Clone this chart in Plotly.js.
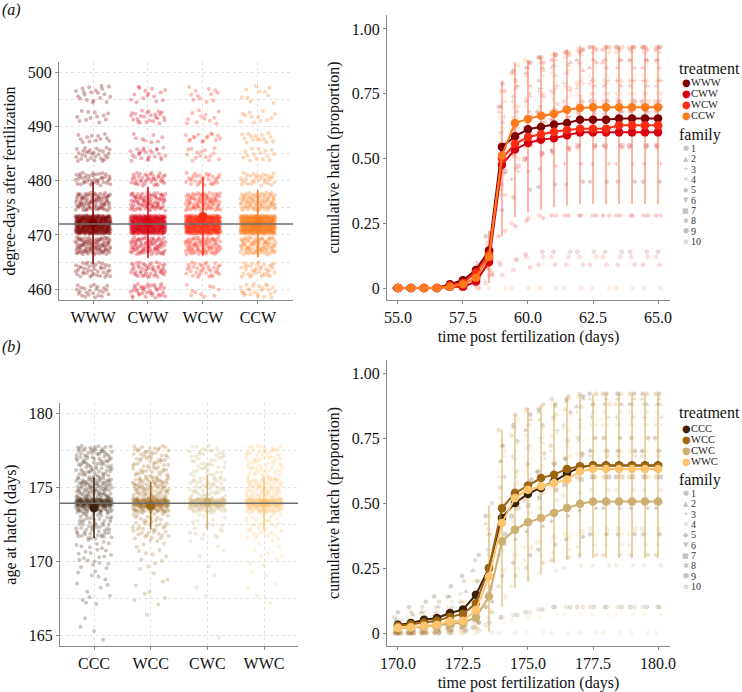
<!DOCTYPE html>
<html>
<head>
<meta charset="utf-8">
<script src="https://cdn.plot.ly/plotly-3.0.1.min.js"></script>
<style>
  html, body { margin: 0; padding: 0; background: #fff; }
  #chart { width: 742px; height: 692px; }
</style>
</head>
<body>
<div id="chart"></div>
<script>
const FONT = 'Liberation Serif, Times New Roman, serif';
const GLYPH_FONT = 'DejaVu Sans, sans-serif';
const W = 742, H = 692;

// ---------- (a) degree-days / hatch, warm-incubated ----------
const TREAT_A = ['WWW', 'CWW', 'WCW', 'CCW'];
const COLORS_A = ['#7f0000', '#d7000f', '#ff2a12', '#ff7a1c'];

// hatch recorded at discrete degree-day levels -> bands of jittered points
const DD_BAND_LO = [458.4, 462.2, 466.4, 470.2, 474.5, 479.1, 483.6, 487.0, 490.5, 494.3];
const DD_BAND_HI = [461.0, 465.0, 469.6, 473.6, 477.8, 481.5, 486.1, 488.8, 493.0, 497.5];
const DD_COUNTS = [
    [25, 40, 95, 360, 85, 40, 30, 12, 12, 20],   // WWW
    [40, 50, 85, 360, 85, 40, 25, 8, 25, 15],    // CWW
    [10, 35, 85, 360, 85, 30, 15, 15, 12, 12],   // WCW
    [25, 35, 90, 360, 85, 30, 15, 15, 12, 10],   // CCW
];
const DD_MEAN = [472.2, 472.3, 473.4, 472.1];
const DD_SD = [7.5, 6.6, 7.2, 6.2];
const DD_GRAND = 472.0;

const TIME_A = [55.0, 55.5, 56.0, 56.5, 57.0, 57.5, 58.0, 58.5, 59.0, 59.5, 60.0,
                60.5, 61.0, 61.5, 62.0, 62.5, 63.0, 63.5, 64.0, 64.5, 65.0];
const HATCH_A = [
    [0, 0, 0, 0, 0.015, 0.03, 0.07, 0.145, 0.545, 0.586, 0.613, 0.622, 0.631, 0.637, 0.65, 0.65, 0.65, 0.655, 0.655, 0.655, 0.655],
    [0, 0, 0, 0, 0.005, 0.005, 0.025, 0.10, 0.476, 0.535, 0.56, 0.573, 0.578, 0.59, 0.601, 0.601, 0.601, 0.601, 0.601, 0.601, 0.601],
    [0, 0, 0, 0, 0.01, 0.02, 0.06, 0.13, 0.50, 0.557, 0.583, 0.594, 0.603, 0.61, 0.615, 0.615, 0.615, 0.628, 0.628, 0.628, 0.628],
    [0, 0, 0, 0, 0.005, 0.015, 0.04, 0.12, 0.512, 0.637, 0.653, 0.665, 0.672, 0.688, 0.695, 0.698, 0.698, 0.698, 0.698, 0.698, 0.698],
];
// spread bars (drawn on WCW)
const ERR_A_LO = [null, null, null, null, null, null, null, 0.02, 0.20, 0.274, 0.293, 0.302, 0.312, 0.319, 0.325, 0.325, 0.325, 0.325, 0.325, 0.325, 0.325];
const ERR_A_HI = [null, null, null, null, null, null, null, 0.22, 0.80, 0.873, 0.88, 0.893, 0.912, 0.921, 0.935, 0.935, 0.935, 0.935, 0.935, 0.935, 0.935];

// per-family cumulative hatch, one row per family (1..10), 21 times each
const FAM_A = [
    [ // WWW
        '0 0 0 0 .02 .04 .09 .2 .79 .84 .87 .89 .9 .91 .92 .93 .93 .93 .93 .93 .93',
        '0 0 0 0 0 .02 .06 .15 .7 .78 .83 .85 .86 .87 .88 .88 .88 .88 .88 .88 .88',
        '0 0 0 0 .01 .03 .1 .18 .66 .72 .75 .77 .78 .79 .8 .8 .8 .8 .8 .8 .8',
        '0 0 0 0 0 .04 .08 .16 .6 .68 .72 .74 .76 .77 .78 .78 .78 .78 .78 .78 .78',
        '0 0 0 0 .02 .03 .07 .14 .55 .62 .66 .68 .69 .7 .72 .72 .72 .72 .72 .72 .72',
        '0 0 0 0 0 .02 .05 .12 .5 .58 .62 .64 .65 .66 .68 .68 .68 .68 .68 .68 .68',
        '0 0 0 0 .01 .02 .06 .13 .45 .52 .56 .58 .59 .6 .62 .62 .62 .62 .62 .62 .62',
        '0 0 0 0 0 .03 .07 .15 .4 .46 .5 .52 .53 .54 .55 .55 .55 .55 .55 .55 .55',
        '0 0 0 0 0 .01 .04 .1 .3 .35 .38 .39 .4 .4 .41 .41 .41 .41 .41 .41 .41',
        '0 0 0 0 0 0 .02 .05 .09 .11 .13 .14 .14 .14 .14 .14 .14 .14 .14 .14 .14',
    ],
    [ // CWW
        '0 0 0 0 0 .02 .05 .12 .7 .8 .85 .87 .88 .9 .91 .92 .92 .92 .92 .92 .92',
        '0 0 0 0 0 0 .03 .1 .64 .74 .78 .8 .82 .83 .84 .85 .85 .85 .85 .85 .85',
        '0 0 0 0 0 .01 .04 .13 .6 .68 .72 .74 .75 .76 .77 .78 .78 .78 .78 .78 .78',
        '0 0 0 0 0 0 .02 .09 .56 .64 .68 .7 .71 .72 .73 .73 .73 .73 .73 .73 .73',
        '0 0 0 0 .01 .01 .04 .11 .52 .6 .64 .66 .67 .68 .7 .7 .7 .7 .7 .7 .7',
        '0 0 0 0 0 0 .02 .08 .46 .53 .57 .59 .6 .61 .62 .62 .62 .62 .62 .62 .62',
        '0 0 0 0 0 .01 .03 .1 .4 .47 .5 .52 .53 .54 .55 .55 .55 .55 .55 .55 .55',
        '0 0 0 0 0 0 .02 .07 .36 .42 .45 .46 .47 .48 .48 .48 .48 .48 .48 .48 .48',
        '0 0 0 0 0 0 .01 .05 .2 .24 .26 .27 .28 .28 .28 .28 .28 .28 .28 .28 .28',
        '0 0 0 0 0 0 0 .02 .05 .07 .08 .09 .09 .09 .09 .09 .09 .09 .09 .09 .09',
    ],
    [ // WCW
        '0 0 0 0 .01 .03 .08 .16 .76 .83 .87 .89 .9 .91 .92 .93 .93 .93 .93 .93 .93',
        '0 0 0 0 0 .02 .06 .14 .68 .77 .82 .84 .85 .86 .87 .87 .87 .88 .88 .88 .88',
        '0 0 0 0 .02 .03 .08 .17 .62 .7 .74 .76 .77 .78 .79 .79 .79 .8 .8 .8 .8',
        '0 0 0 0 0 .02 .06 .13 .58 .66 .7 .72 .73 .74 .75 .75 .75 .75 .75 .75 .75',
        '0 0 0 0 .01 .02 .05 .12 .53 .61 .65 .67 .68 .69 .7 .7 .7 .7 .7 .7 .7',
        '0 0 0 0 0 .02 .06 .14 .5 .58 .62 .64 .65 .66 .67 .67 .67 .68 .68 .68 .68',
        '0 0 0 0 0 .01 .04 .1 .44 .51 .55 .57 .58 .59 .6 .6 .6 .6 .6 .6 .6',
        '0 0 0 0 .01 .02 .05 .11 .38 .45 .49 .51 .52 .53 .54 .54 .54 .54 .54 .54 .54',
        '0 0 0 0 0 0 .03 .08 .22 .25 .27 .28 .28 .28 .28 .28 .28 .28 .28 .28 .28',
        '0 0 0 0 0 .01 .02 .06 .1 .11 .12 .12 .12 .12 .12 .12 .12 .12 .12 .12 .12',
    ],
    [ // CCW
        '0 0 0 0 0 .02 .06 .15 .76 .86 .88 .89 .9 .91 .92 .93 .93 .93 .93 .93 .93',
        '0 0 0 0 0 .01 .04 .12 .72 .83 .85 .87 .88 .89 .9 .91 .91 .91 .91 .91 .91',
        '0 0 0 0 .01 .02 .05 .14 .66 .78 .8 .82 .83 .84 .86 .87 .87 .87 .87 .87 .87',
        '0 0 0 0 0 0 .03 .1 .6 .73 .75 .77 .78 .79 .81 .82 .82 .82 .82 .82 .82',
        '0 0 0 0 0 .01 .05 .13 .56 .7 .73 .75 .76 .77 .79 .8 .8 .8 .8 .8 .8',
        '0 0 0 0 0 0 .03 .1 .52 .66 .68 .7 .71 .72 .74 .75 .75 .75 .75 .75 .75',
        '0 0 0 0 0 .01 .04 .12 .48 .62 .65 .67 .68 .69 .71 .72 .72 .72 .72 .72 .72',
        '0 0 0 0 0 0 .03 .09 .42 .57 .6 .62 .63 .64 .65 .66 .66 .66 .66 .66 .66',
        '0 0 0 0 0 0 .02 .07 .36 .5 .54 .56 .57 .58 .59 .6 .6 .6 .6 .6 .6',
        '0 0 0 0 0 0 0 0 0 0 0 0 0 0 0 0 0 0 0 0 0',
    ],
];

// ---------- (b) age at hatch, cold-incubated ----------
const TREAT_B = ['CCC', 'WCC', 'CWC', 'WWC'];
const COLORS_B = ['#3d2008', '#9b6512', '#cdb071', '#ffc46e'];

const AGE_BAND_LO = [164.4, 167.0, 169.5, 171.5, 173.3, 173.7, 174.2, 175.6];
const AGE_BAND_HI = [167.0, 169.5, 171.5, 173.3, 173.7, 174.2, 175.6, 177.8];
const AGE_COUNTS = [
    [4, 14, 25, 60, 40, 130, 90, 90],   // CCC
    [1, 10, 14, 45, 40, 120, 80, 70],   // WCC
    [1, 3, 5, 20, 30, 110, 45, 50],     // CWC
    [0, 6, 10, 35, 40, 120, 75, 70],    // WWC
];
const AGE_MEAN = [173.6, 173.75, 173.97, 173.9];
const AGE_SD = [2.05, 1.6, 1.85, 1.8];
const AGE_GRAND = 173.9;

const TIME_B = [170.0, 170.5, 171.0, 171.5, 172.0, 172.5, 173.0, 173.5, 174.0, 174.5, 175.0,
                175.5, 176.0, 176.5, 177.0, 177.5, 178.0, 178.5, 179.0, 179.5, 180.0];
const HATCH_B = [
    [0.032, 0.038, 0.051, 0.058, 0.077, 0.09, 0.147, 0.25, 0.442, 0.50, 0.535, 0.558, 0.583, 0.613, 0.638, 0.644, 0.644, 0.644, 0.644, 0.644, 0.644],
    [0.027, 0.033, 0.04, 0.047, 0.062, 0.073, 0.114, 0.249, 0.48, 0.538, 0.567, 0.596, 0.609, 0.631, 0.641, 0.644, 0.644, 0.644, 0.644, 0.644, 0.644],
    [0.02, 0.02, 0.025, 0.03, 0.035, 0.04, 0.06, 0.14, 0.353, 0.397, 0.426, 0.442, 0.462, 0.481, 0.497, 0.506, 0.506, 0.506, 0.506, 0.506, 0.506],
    [0.02, 0.022, 0.028, 0.032, 0.045, 0.047, 0.088, 0.217, 0.423, 0.519, 0.551, 0.564, 0.577, 0.59, 0.622, 0.631, 0.631, 0.631, 0.631, 0.631, 0.631],
];
// spread bars (drawn on WWC)
const ERR_B_LO = [null, null, null, null, null, null, null, 0.005, 0.10, 0.173, 0.199, 0.23, 0.27, 0.282, 0.288, 0.288, 0.288, 0.288, 0.288, 0.288, 0.288];
const ERR_B_HI = [null, null, null, null, null, null, null, 0.49, 0.78, 0.84, 0.865, 0.875, 0.885, 0.904, 0.917, 0.917, 0.917, 0.917, 0.917, 0.917, 0.917];

const FAM_B = [
    [ // CCC
        '.08 .1 .12 .14 .18 .22 .3 .45 .72 .8 .84 .86 .88 .9 .91 .92 .92 .92 .92 .92 .92',
        '.05 .07 .08 .1 .14 .16 .24 .38 .66 .74 .78 .8 .83 .85 .87 .88 .88 .88 .88 .88 .88',
        '.03 .04 .06 .08 .1 .12 .2 .32 .6 .68 .72 .75 .78 .8 .82 .83 .83 .83 .83 .83 .83',
        '.02 .03 .04 .05 .07 .09 .15 .27 .52 .6 .64 .67 .7 .72 .74 .75 .75 .75 .75 .75 .75',
        '.02 .02 .03 .04 .06 .08 .13 .22 .47 .55 .59 .62 .65 .67 .69 .7 .7 .7 .7 .7 .7',
        '0 .01 .02 .03 .05 .06 .1 .18 .42 .5 .54 .57 .6 .62 .64 .65 .65 .65 .65 .65 .65',
        '0 0 .01 .02 .03 .04 .08 .15 .38 .45 .49 .52 .55 .57 .59 .6 .6 .6 .6 .6 .6',
        '0 0 0 .01 .02 .03 .06 .12 .3 .36 .39 .41 .43 .45 .47 .48 .48 .48 .48 .48 .48',
        '0 0 0 0 .01 .02 .04 .1 .22 .27 .3 .32 .34 .36 .37 .38 .38 .38 .38 .38 .38',
        '0 0 0 0 0 .01 .02 .04 .06 .07 .08 .09 .1 .1 .1 .1 .1 .1 .1 .1 .1',
    ],
    [ // WCC
        '.06 .08 .1 .12 .14 .2 .28 .5 .78 .84 .86 .88 .9 .91 .92 .92 .92 .92 .92 .92 .92',
        '.04 .05 .06 .07 .09 .12 .2 .42 .72 .79 .82 .85 .87 .89 .9 .9 .9 .9 .9 .9 .9',
        '.03 .04 .04 .05 .06 .08 .14 .35 .66 .73 .76 .79 .82 .84 .85 .85 .85 .85 .85 .85 .85',
        '.02 .03 .03 .04 .05 .06 .1 .3 .6 .67 .7 .74 .77 .79 .8 .8 .8 .8 .8 .8 .8',
        '.01 .02 .02 .03 .04 .05 .08 .26 .56 .62 .65 .69 .72 .74 .75 .75 .75 .75 .75 .75 .75',
        '.01 .01 .02 .02 .03 .04 .06 .2 .48 .55 .58 .62 .65 .67 .68 .68 .68 .68 .68 .68 .68',
        '0 0 .01 .01 .02 .03 .05 .17 .42 .48 .51 .54 .57 .59 .6 .6 .6 .6 .6 .6 .6',
        '0 0 0 .01 .01 .02 .04 .14 .34 .4 .43 .45 .47 .49 .5 .5 .5 .5 .5 .5 .5',
        '0 0 0 0 .01 .01 .02 .08 .18 .22 .25 .27 .28 .29 .3 .3 .3 .3 .3 .3 .3',
        '0 0 0 0 0 0 .01 .03 .06 .07 .08 .09 .1 .1 .1 .1 .1 .1 .1 .1 .1',
    ],
    [ // CWC
        '.05 .06 .08 .1 .12 .15 .2 .4 .7 .76 .8 .82 .84 .86 .87 .88 .88 .88 .88 .88 .88',
        '.03 .04 .05 .06 .08 .1 .14 .3 .6 .67 .71 .73 .76 .78 .79 .8 .8 .8 .8 .8 .8',
        '.02 .02 .03 .04 .05 .07 .1 .22 .5 .57 .61 .63 .66 .68 .69 .7 .7 .7 .7 .7 .7',
        '.01 .02 .02 .03 .04 .05 .08 .16 .42 .49 .53 .55 .58 .6 .61 .62 .62 .62 .62 .62 .62',
        '.01 .01 .02 .02 .03 .04 .06 .14 .36 .43 .46 .48 .51 .53 .54 .55 .55 .55 .55 .55 .55',
        '0 .01 .01 .02 .02 .03 .05 .12 .32 .39 .42 .44 .46 .48 .49 .5 .5 .5 .5 .5 .5',
        '0 0 .01 .01 .02 .02 .04 .1 .24 .3 .33 .35 .37 .38 .39 .4 .4 .4 .4 .4 .4',
        '0 0 0 .01 .01 .02 .03 .08 .2 .25 .28 .3 .31 .32 .33 .34 .34 .34 .34 .34 .34',
        '0 0 0 0 .01 .01 .02 .06 .14 .18 .21 .23 .24 .25 .26 .26 .26 .26 .26 .26 .26',
        '0 0 0 0 0 0 0 0 0 0 0 0 0 0 0 0 0 0 0 0 0',
    ],
    [ // WWC
        '.04 .05 .07 .08 .1 .12 .2 .45 .74 .82 .85 .87 .88 .9 .91 .92 .92 .92 .92 .92 .92',
        '.02 .03 .04 .05 .06 .08 .15 .38 .68 .76 .8 .82 .84 .86 .87 .88 .88 .88 .88 .88 .88',
        '.02 .02 .03 .03 .04 .06 .12 .32 .62 .7 .74 .76 .78 .8 .81 .82 .82 .82 .82 .82 .82',
        '.01 .02 .02 .03 .03 .04 .1 .27 .55 .63 .67 .69 .71 .73 .74 .75 .75 .75 .75 .75 .75',
        '.01 .01 .02 .02 .03 .04 .08 .22 .5 .58 .62 .64 .66 .68 .69 .7 .7 .7 .7 .7 .7',
        '0 .01 .01 .02 .02 .03 .06 .18 .45 .53 .57 .59 .61 .63 .64 .65 .65 .65 .65 .65 .65',
        '0 0 .01 .01 .02 .03 .05 .15 .4 .48 .52 .54 .56 .58 .59 .6 .6 .6 .6 .6 .6',
        '0 0 0 .01 .01 .02 .04 .12 .32 .39 .43 .45 .47 .48 .49 .5 .5 .5 .5 .5 .5',
        '0 0 0 0 .01 .01 .03 .09 .24 .3 .33 .35 .36 .37 .38 .38 .38 .38 .38 .38 .38',
        '0 0 0 0 0 0 .01 .02 .04 .05 .06 .06 .07 .07 .07 .07 .07 .07 .07 .07 .07',
    ],
];

const FAMILY_SYMBOLS = ['circle', 'triangle-up', 'cross-thin-open', 'x-thin-open', 'diamond',
                        'triangle-down', 'square', 'asterisk-open', 'hexagon', 'circle-cross-open'];
const FAMILY_GLYPHS = ['●', '▲', '+', '×', '◆', '▼', '■', '✱', '⬢', '⊕'];


// Halton sequence offsets, stand in for geom_jitter without Math.random
function halton(i, base) {
    let f = 1, r = 0;
    while (i > 0) {
        f /= base;
        r += f * (i % base);
        i = Math.floor(i / base);
    }
    return r;
}

function jitterTraces(lo, hi, counts, means, sds, colors, opacity, xa, ya) {
    const traces = [];
    counts.forEach((bandCounts, cat) => {
        const xs = [], ys = [];
        let k = 1 + cat * 613;
        bandCounts.forEach((n, b) => {
            for (let i = 0; i < n; i++, k++) {
                xs.push(cat + 0.32 * (2 * halton(k, 2) - 1));
                ys.push(lo[b] + (hi[b] - lo[b]) * halton(k, 3));
            }
        });
        traces.push({
            type: 'scatter', mode: 'markers', x: xs, y: ys, xaxis: xa, yaxis: ya,
            marker: { size: 4, color: colors[cat], opacity },
            hoverinfo: 'skip', showlegend: false,
        });
    });
    means.forEach((m, cat) => {
        traces.push({
            type: 'scatter', mode: 'markers', x: [cat], y: [m], xaxis: xa, yaxis: ya,
            marker: { size: 9, color: colors[cat] },
            error_y: { type: 'data', array: [sds[cat]], width: 0, thickness: 1.5, color: colors[cat] },
            showlegend: false,
        });
    });
    return traces;
}

function hatchTraces(times, means, famRows, colors, errIdx, errLo, errHi, errColor, xa, ya) {
    const traces = [];
    for (let f = 0; f < FAMILY_SYMBOLS.length; f++) {
        const xs = [], ys = [], cs = [];
        famRows.forEach((rows, t) => {
            rows[f].split(' ').map(Number).forEach((v, i) => {
                xs.push(times[i] + 0.14 * (2 * halton(1 + f * 97 + t * 31 + i, 2) - 1));
                ys.push(v);
                cs.push(colors[t]);
            });
        });
        traces.push({
            type: 'scatter', mode: 'markers', x: xs, y: ys, xaxis: xa, yaxis: ya,
            marker: { symbol: FAMILY_SYMBOLS[f], size: 4, color: cs, opacity: 0.2, line: { width: 0.7, color: cs } },
            hoverinfo: 'skip', showlegend: false,
        });
    }
    const base = means[errIdx];
    traces.push({
        type: 'scatter', mode: 'markers', x: times, y: base, xaxis: xa, yaxis: ya,
        marker: { size: 1, opacity: 0 },
        error_y: {
            type: 'data', symmetric: false, width: 0, thickness: 1.5, color: errColor,
            array: errHi.map((h, i) => h == null ? 0 : h - base[i]),
            arrayminus: errLo.map((l, i) => l == null ? 0 : base[i] - l),
        },
        hoverinfo: 'skip', showlegend: false,
    });
    means.forEach((ys, t) => {
        traces.push({
            type: 'scatter', mode: 'lines+markers', x: times, y: ys, xaxis: xa, yaxis: ya,
            line: { color: colors[t], width: 2 },
            marker: { size: 8.5, color: colors[t] },
            showlegend: false,
        });
    });
    return traces;
}

const data = [
    ...jitterTraces(DD_BAND_LO, DD_BAND_HI, DD_COUNTS, DD_MEAN, DD_SD, COLORS_A, 0.3, 'x', 'y'),
    ...hatchTraces(TIME_A, HATCH_A, FAM_A, COLORS_A, 2, ERR_A_LO, ERR_A_HI, 'rgba(250,120,85,0.7)', 'x2', 'y2'),
    ...jitterTraces(AGE_BAND_LO, AGE_BAND_HI, AGE_COUNTS, AGE_MEAN, AGE_SD, COLORS_B, 0.25, 'x3', 'y3'),
    ...hatchTraces(TIME_B, HATCH_B, FAM_B, COLORS_B, 3, ERR_B_LO, ERR_B_HI, 'rgba(214,172,90,0.7)', 'x4', 'y4'),
];


// ---------- layout ----------
const hDom = (l, r) => [l / W, r / W];
const vDom = (top, bottom) => [1 - bottom / H, 1 - top / H];

const AXIS = {
    showline: true, linecolor: '#8a8a8a', linewidth: 1.3,
    ticks: 'outside', ticklen: 3, tickcolor: '#8a8a8a', tickwidth: 1,
    tickfont: { family: FONT, size: 16, color: '#111' },
    zeroline: false, showgrid: false, fixedrange: true,
};
const GRID = { showgrid: true, gridcolor: '#e2e2e2', gridwidth: 1, griddash: 'dot' };
const titleFont = { family: FONT, size: 16, color: '#111' };
const hatchTicks = { tickvals: [0, 0.25, 0.5, 0.75, 1], ticktext: ['0', '0.25', '0.50', '0.75', '1.00'] };

function legendAnnotations(titleY, itemY, itemStep, famY, famStep, labels, colors) {
    const ann = [];
    const txt = (x, y, t, size, color, anchor, family) => ({
        xref: 'paper', yref: 'paper', x: x / W, y: 1 - y / H, text: t, showarrow: false,
        xanchor: anchor, yanchor: 'middle', borderpad: 0, font: { family: family || FONT, size, color },
    });
    ann.push(txt(678, titleY, 'treatment', 16, '#111', 'left'));
    labels.forEach((lab, i) => {
        ann.push(txt(686, itemY + i * itemStep, '●', 10, colors[i], 'center', GLYPH_FONT));
        ann.push(txt(690, itemY + i * itemStep, lab, 10.5, '#222', 'left'));
    });
    ann.push(txt(678, famY - 13, 'family', 16, '#111', 'left'));
    FAMILY_GLYPHS.forEach((g, i) => {
        ann.push(txt(685.5, famY + i * famStep, g, 7, '#c2c2c2', 'center', GLYPH_FONT));
        ann.push(txt(690, famY + i * famStep, String(i + 1), 10, '#333', 'left'));
    });
    return ann;
}

const layout = {
    width: W, height: H,
    margin: { l: 0, r: 0, t: 0, b: 0 },
    paper_bgcolor: '#fff', plot_bgcolor: '#fff',
    font: { family: FONT, color: '#111' },
    showlegend: false,

    xaxis: { ...AXIS, ...GRID, domain: hDom(59, 293), anchor: 'y', range: [-0.62, 3.64],
             tickvals: [0, 1, 2, 3], ticktext: TREAT_A },
    yaxis: { ...AXIS, ...GRID, domain: vDom(62, 300), anchor: 'x', range: [458, 501.9],
             tick0: 460, dtick: 10,
             minor: { dtick: 5, showgrid: true, gridcolor: '#e2e2e2', griddash: 'dot', ticks: '' },
             title: { text: 'degree-days after fertilization', font: titleFont, standoff: 8 } },

    xaxis2: { ...AXIS, domain: hDom(387, 670), anchor: 'y2', range: [54.58, 65.46],
              tick0: 55, dtick: 2.5, tickformat: '.1f',
              title: { text: 'time post fertilization (days)', font: titleFont, standoff: 5 } },
    yaxis2: { ...AXIS, ...hatchTicks, domain: vDom(15, 300), anchor: 'x2', range: [-0.046, 1.054],
              title: { text: 'cumulative hatch (proportion)', font: titleFont, standoff: 8 } },

    xaxis3: { ...AXIS, ...GRID, domain: hDom(60, 298), anchor: 'y3', range: [-0.6, 3.6],
              tickvals: [0, 1, 2, 3], ticktext: TREAT_B },
    yaxis3: { ...AXIS, ...GRID, domain: vDom(403, 646), anchor: 'x3', range: [164.26, 180.68],
              tick0: 165, dtick: 5,
              minor: { dtick: 2.5, showgrid: true, gridcolor: '#e2e2e2', griddash: 'dot', ticks: '' },
              title: { text: 'age at hatch (days)', font: titleFont, standoff: 8 } },

    xaxis4: { ...AXIS, domain: hDom(387, 670), anchor: 'y4', range: [169.58, 180.46],
              tick0: 170, dtick: 2.5, tickformat: '.1f',
              title: { text: 'time post fertilization (days)', font: titleFont, standoff: 5 } },
    yaxis4: { ...AXIS, ...hatchTicks, domain: vDom(360, 646), anchor: 'x4', range: [-0.05, 1.05],
              title: { text: 'cumulative hatch (proportion)', font: titleFont, standoff: 8 } },

    shapes: [
        { type: 'line', xref: 'x domain', yref: 'y', x0: 0, x1: 1, y0: DD_GRAND, y1: DD_GRAND,
          line: { color: '#6e6e6e', width: 1.5 }, layer: 'above' },
        { type: 'line', xref: 'x3 domain', yref: 'y3', x0: 0, x1: 1, y0: AGE_GRAND, y1: AGE_GRAND,
          line: { color: '#6e6e6e', width: 1.5 }, layer: 'above' },
    ],

    annotations: [
        { xref: 'paper', yref: 'paper', x: 0, y: 1 - 10 / H, xanchor: 'left', yanchor: 'middle',
          text: '<i>(a)</i>', showarrow: false, font: { family: FONT, size: 16, color: '#111' } },
        { xref: 'paper', yref: 'paper', x: 0, y: 1 - 347 / H, xanchor: 'left', yanchor: 'middle',
          text: '<i>(b)</i>', showarrow: false, font: { family: FONT, size: 16, color: '#111' } },
        ...legendAnnotations(68, 82.7, 10.8, 148.3, 10.37, TREAT_A, COLORS_A),
        ...legendAnnotations(412.7, 428.3, 10.9, 493.3, 10.37, TREAT_B, COLORS_B),
    ],
};

Plotly.newPlot('chart', data, layout, { displayModeBar: false, responsive: false });
</script>
</body>
</html>
